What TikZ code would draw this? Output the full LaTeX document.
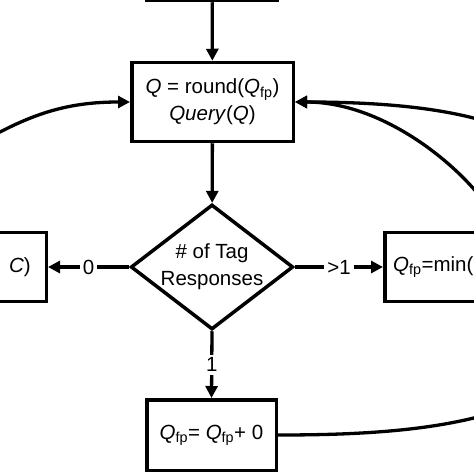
\documentclass[tikz,border=0pt]{standalone}
\usepackage{fontspec}
\setmainfont{Liberation Sans}
\usetikzlibrary{arrows.meta,shapes.geometric}
\newcommand{\Qfp}{\textit{Q}\textsubscript{fp}}
\tikzset{
    procbox/.style={draw, line width=3.5pt, inner sep=0pt, align=center},
    decision/.style={draw, diamond, aspect=1.3, line width=3.5pt, inner sep=0pt,
        minimum width=162pt, minimum height=122pt, align=center},
    flow/.style={line width=3.3pt, -{Triangle[length=12pt,width=12pt]}},
    branch/.style={fill=white, inner sep=3pt}
}
\begin{document}
\begin{tikzpicture}[x=1pt,y=1pt,font=\fontsize{20.5}{27}\selectfont]
                \useasboundingbox (0,0) rectangle (474,-474);
                \clip (0,0) rectangle (474,-474);
                % boxes of the loop
                \node[procbox, minimum width=130pt, minimum height=79pt] (init) at (212,39) {};
                \node[procbox, minimum width=161.5pt, minimum height=79pt] (qbox) at (212.5,-102)
                    {\textit{Q} = round(\Qfp)\\\textit{Query}(\textit{Q})};
                \node[decision] (test) at (212,-267) {\# of Tag\\Responses};
                \node[procbox, minimum width=170pt, minimum height=69pt] (leftbox) at (-38.75,-267) {};
                \node[anchor=east, inner sep=0pt] (lefttext) at (31,-267) {\textit{C})};
                \node[procbox, minimum width=230pt, minimum height=69pt] (rightbox) at (499.75,-267) {};
                \node[anchor=west, inner sep=0pt] (righttext) at (393,-267) {\Qfp=min(};
                \node[procbox, minimum width=129.5pt, minimum height=70.5pt] (botbox) at (211.5,-435)
                    {\Qfp= \Qfp+ 0};
                % straight arrows
                \draw[flow] (init) -- (qbox);
                \draw[flow] (qbox) -- (test);
                \draw[flow] (test.west) -- node[branch] {0} (leftbox.east);
                \draw[flow] (test.east) -- node[branch] {>1} (rightbox.west);
                \draw[flow] (test.south) -- node[branch] {1} (botbox.north);
                % feedback curves
                \coordinate (leftbend) at (-20,-143);
                \coordinate (rightloop) at (610,-280);
                \draw[flow] (leftbox.north) to[out=90,in=210] (leftbend) to[out=30,in=180] (qbox.west);
                \draw[flow] (rightbox.north) to[out=103,in=0,out looseness=0.4,in looseness=1.1] (qbox.east);
                \draw[flow] (botbox.east) to[out=0,in=-90] (rightloop) to[out=90,in=0,in looseness=1.4] (qbox.east);
            \end{tikzpicture}
\end{document}
